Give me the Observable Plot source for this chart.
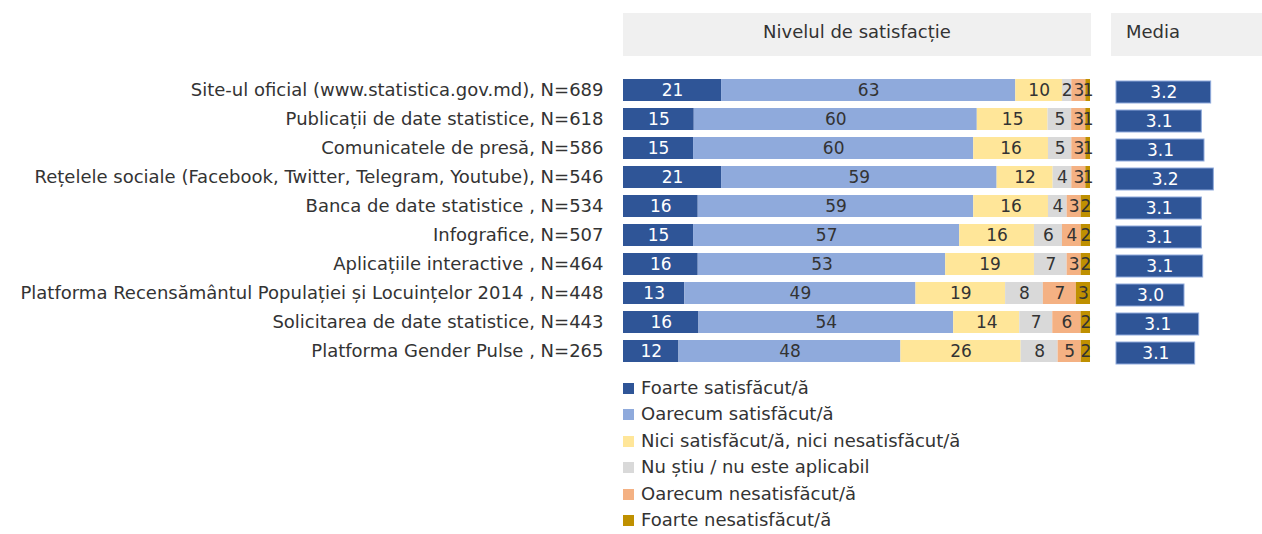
<!DOCTYPE html>
<html><head><meta charset="utf-8">
<script src="https://cdn.jsdelivr.net/npm/d3@7"></script>
<script src="https://cdn.jsdelivr.net/npm/@observablehq/plot@0.6"></script>
<style>
body{margin:0;background:#fff;font-family:"DejaVu Sans",sans-serif;color:#333}
#wrap{position:relative;width:1262px;height:534px;overflow:hidden;background:#fff}
.hdr{position:absolute;background:#f0f0f0;top:13px;height:43px;font-size:18px;line-height:38px;color:#333}
#main{position:absolute;left:0;top:0}
#media{position:absolute;left:1111px;top:0}
#legend{position:absolute;left:623px;top:375px;font-size:18px;color:#333}
#legend .row{height:26.4px;line-height:26.4px;white-space:nowrap}
#legend .sw{display:inline-block;width:11px;height:11px;margin-right:7px;vertical-align:0px}
</style></head><body>
<div id="wrap">
  <div class="hdr" style="left:623px;width:468px;text-align:center">Nivelul de satisfacție</div>
  <div class="hdr" style="left:1111px;width:151px;padding-left:15px;box-sizing:border-box">Media</div>
  <div id="main"></div>
  <div id="media"></div>
  <div id="legend"></div>
</div>
<script>
const categories = [
  "Site-ul oficial (www.statistica.gov.md), N=689",
  "Publicații de date statistice, N=618",
  "Comunicatele de presă, N=586",
  "Rețelele sociale (Facebook, Twitter, Telegram, Youtube), N=546",
  "Banca de date statistice , N=534",
  "Infografice, N=507",
  "Aplicațiile interactive , N=464",
  "Platforma Recensământul Populației și Locuințelor 2014 , N=448",
  "Solicitarea de date statistice, N=443",
  "Platforma Gender Pulse , N=265"
];
const seriesNames = [
  "Foarte satisfăcut/ă",
  "Oarecum satisfăcut/ă",
  "Nici satisfăcut/ă, nici nesatisfăcut/ă",
  "Nu știu / nu este aplicabil",
  "Oarecum nesatisfăcut/ă",
  "Foarte nesatisfăcut/ă"
];
const seriesColors = ["#2F5597", "#8FAADC", "#FFE699", "#D9D9D9", "#F4B183", "#BF9000"];
const foarteSatisfacut    = [21, 15, 15, 21, 16, 15, 16, 13, 16, 12];
const oarecumSatisfacut   = [63, 60, 60, 59, 59, 57, 53, 49, 54, 48];
const niciNici            = [10, 15, 16, 12, 16, 16, 19, 19, 14, 26];
const nuStiu              = [2, 5, 5, 4, 4, 6, 7, 8, 7, 8];
const oarecumNesatisfacut = [3, 3, 3, 3, 3, 4, 3, 7, 6, 5];
const foarteNesatisfacut  = [1, 1, 1, 1, 2, 2, 2, 3, 2, 2];
const media = [3.19, 3.12, 3.14, 3.21, 3.12, 3.12, 3.13, 2.99, 3.10, 3.07];
const mediaDomain = [2.48, 3.575];

const seriesValues = [foarteSatisfacut, oarecumSatisfacut, niciNici, nuStiu, oarecumNesatisfacut, foarteNesatisfacut];
const table = [];
categories.forEach((cat, i) => {
  seriesNames.forEach((s, j) => table.push({cat, series: s, value: seriesValues[j][i]}));
});
const mediaTable = categories.map((cat, i) => ({cat, value: media[i]}));

const font = "'DejaVu Sans', sans-serif";
const stackOpts = {x: "value", y: "cat", z: "series", offset: "normalize", order: seriesNames};

const main = Plot.plot({
  width: 1100, height: 373,
  marginLeft: 623, marginRight: 10, marginTop: 69, marginBottom: 0,
  style: {fontFamily: font, fontSize: "16px", color: "#333", background: "transparent"},
  x: {axis: null, domain: [0, 1]},
  y: {axis: null, domain: categories, paddingInner: 0.225, paddingOuter: 0.225},
  color: {domain: seriesNames, range: seriesColors},
  marks: [
    Plot.text(categories, {y: d => d, frameAnchor: "left", textAnchor: "end", dx: -20,
      fontSize: 18, fill: "#333"}),
    Plot.barX(table, Plot.stackX({...stackOpts, fill: "series"})),
    Plot.text(table, Plot.stackX({...stackOpts,
      text: d => d.series === seriesNames[0] ? String(d.value) : null,
      fill: "white", fontSize: 17})),
    Plot.text(table, Plot.stackX({...stackOpts,
      text: d => d.series !== seriesNames[0] ? String(d.value) : null,
      fill: "#333", fontSize: 17}))
  ]
});
document.getElementById("main").appendChild(main);

const med = Plot.plot({
  width: 151, height: 375,
  marginLeft: 5, marginRight: 0, marginTop: 71, marginBottom: 0,
  style: {fontFamily: font, fontSize: "16px", background: "transparent"},
  x: {axis: null, domain: mediaDomain, clamp: true},
  y: {axis: null, domain: categories, paddingInner: 0.225, paddingOuter: 0.225},
  marks: [
    Plot.barX(mediaTable, {x: "value", y: "cat", fill: "#2F5597", stroke: "#8FAADC", strokeWidth: 1}),
    Plot.text(mediaTable, {x: d => (mediaDomain[0] + d.value) / 2, y: "cat",
      text: d => d.value.toFixed(1), fill: "white", fontSize: 17})
  ]
});
document.getElementById("media").appendChild(med);

const legend = document.getElementById("legend");
seriesNames.forEach((s, j) => {
  const row = document.createElement("div");
  row.className = "row";
  const sw = document.createElement("span");
  sw.className = "sw";
  sw.style.background = seriesColors[j];
  row.appendChild(sw);
  row.appendChild(document.createTextNode(s));
  legend.appendChild(row);
});
</script>
</body></html>
